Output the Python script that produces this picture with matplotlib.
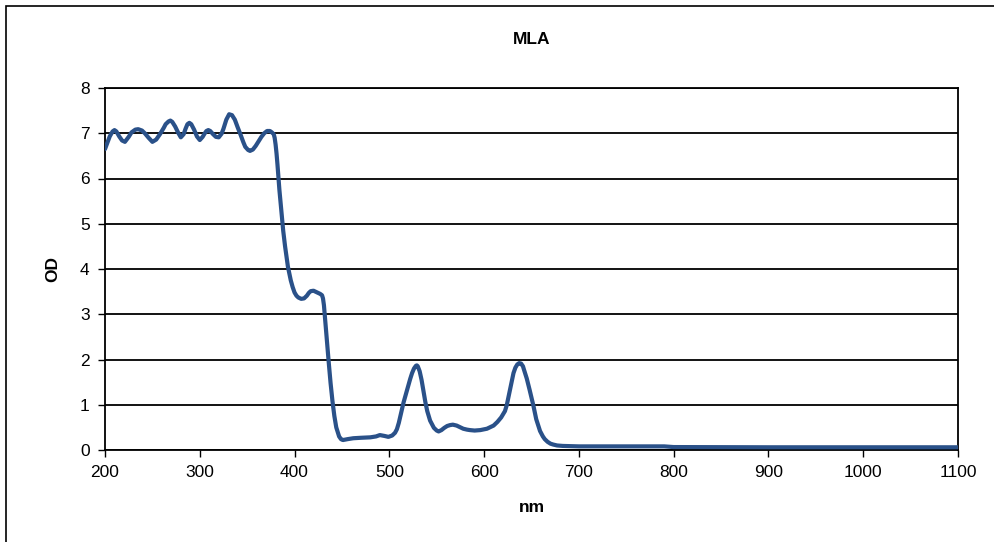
'''Absorbance spectrum of MLA filter (OD vs wavelength)'''

import matplotlib
matplotlib.use('Agg')
from matplotlib.pyplot import figure
from matplotlib.patches import Rectangle

# wavelength (nm) and optical density
wavelength = [200, 205, 208, 210, 212, 215, 218, 221, 225, 228, 232, 235, 239, 242, 246,
              250, 254, 258, 262, 264, 267, 269, 271, 274, 277, 280, 283, 285, 287, 289,
              291, 294, 297, 300, 303, 305, 307, 309, 311, 314, 317, 320, 323, 325, 328,
              331, 334, 337, 340, 343, 346, 348, 351, 353, 356, 359, 362, 365, 368, 371,
              374, 376, 378, 379, 380, 381, 382, 384, 386, 388, 390, 393, 396, 398, 400,
              402, 404, 407, 410, 413, 415, 417, 420, 423, 425, 427, 429, 430, 431, 432,
              434, 436, 438, 440, 442, 444, 447, 449, 451, 456, 462, 470, 480, 486, 490,
              495, 499, 503, 506, 508, 510, 512, 515, 519, 522, 524, 526, 528, 529, 530,
              532, 534, 536, 538, 540, 543, 547, 550, 552, 555, 558, 561, 564, 567, 571,
              575, 578, 582, 585, 590, 596, 603, 610, 614, 618, 622, 624, 626, 629, 631,
              633, 635, 637, 639, 641, 642, 645, 648, 652, 655, 659, 662, 664, 667, 670,
              673, 677, 683, 690, 700, 750, 790, 800, 900, 1000, 1100]
od = [6.65, 6.93, 7.04, 7.07, 7.04, 6.93, 6.84, 6.81, 6.92, 7.02, 7.08, 7.09, 7.06, 7.0, 6.9,
      6.81, 6.86, 6.98, 7.12, 7.2, 7.26, 7.28, 7.25, 7.15, 7.02, 6.91, 6.98, 7.1, 7.2, 7.23,
      7.2, 7.08, 6.93, 6.85, 6.92, 6.99, 7.05, 7.07, 7.05, 6.98, 6.92, 6.91, 6.99, 7.1, 7.3,
      7.42, 7.4, 7.3, 7.13, 6.97, 6.8, 6.7, 6.63, 6.61, 6.64, 6.72, 6.82, 6.92, 7.0, 7.05,
      7.05, 7.02, 6.98, 6.9, 6.75, 6.55, 6.3, 5.75, 5.3, 4.85, 4.5, 4.05, 3.75, 3.6, 3.48,
      3.41, 3.37, 3.34, 3.35, 3.41, 3.47, 3.51, 3.52, 3.49, 3.47, 3.45, 3.42, 3.35, 3.2, 2.95,
      2.45, 1.95, 1.48, 1.08, 0.75, 0.5, 0.3, 0.24, 0.22, 0.24, 0.26, 0.27, 0.28, 0.3, 0.33,
      0.31, 0.29, 0.32, 0.38, 0.46, 0.6, 0.78, 1.05, 1.35, 1.57, 1.7, 1.8, 1.86, 1.87, 1.85,
      1.74, 1.55, 1.3, 1.06, 0.86, 0.65, 0.49, 0.43, 0.41, 0.44, 0.49, 0.53, 0.55, 0.56, 0.54,
      0.5, 0.47, 0.45, 0.44, 0.43, 0.44, 0.47, 0.54, 0.62, 0.72, 0.86, 1.0, 1.2, 1.5, 1.7,
      1.82, 1.89, 1.92, 1.91, 1.85, 1.78, 1.58, 1.33, 0.98, 0.68, 0.42, 0.3, 0.24, 0.18, 0.14,
      0.12, 0.1, 0.09, 0.085, 0.08, 0.08, 0.08, 0.065, 0.06, 0.06, 0.06]

x_ticks = list(range(200, 1101, 100))
y_ticks = list(range(0, 9))

FONT = 'Liberation Sans'


def plot(out='out.png', dpi=100):
    fig = figure(figsize=(9.95, 5.42), dpi=dpi)
    fig.patch.set_facecolor('white')

    # outer chart border (right and bottom edges fall outside the image)
    fig.patches.append(Rectangle((6 / 995, -0.1), 1.2, 1.1 - 6 / 542,
                                 transform=fig.transFigure, fill=False,
                                 edgecolor='black', linewidth=1.2, clip_on=False))

    ax = fig.add_axes([105 / 995, 1 - 450 / 542, (958 - 105) / 995, (450 - 88) / 542])
    ax.plot(wavelength, od, color='#2A5189', linewidth=3.0,
            solid_joinstyle='round', solid_capstyle='round', zorder=3)

    ax.set_xlim(200, 1100)
    ax.set_ylim(0, 8)
    ax.set_xticks(x_ticks)
    ax.set_yticks(y_ticks)
    ax.grid(axis='y', color='black', linewidth=1.3)
    ax.set_axisbelow(True)
    for side in ax.spines.values():
        side.set_color('black')
        side.set_linewidth(1.3)
    ax.tick_params(axis='both', direction='out', length=5, width=1.0, colors='black',
                   labelsize=12.5, pad=6)
    for lab in ax.get_xticklabels() + ax.get_yticklabels():
        lab.set_family(FONT)

    ax.set_title('MLA', fontsize=12.5, fontweight='bold', family=FONT, pad=32)
    ax.set_xlabel('nm', fontsize=12.5, fontweight='bold', family=FONT, labelpad=14)
    ax.set_ylabel('OD', fontsize=12.5, fontweight='bold', family=FONT, labelpad=14)

    fig.savefig(out, dpi=dpi)


if __name__ == '__main__':
    plot()
